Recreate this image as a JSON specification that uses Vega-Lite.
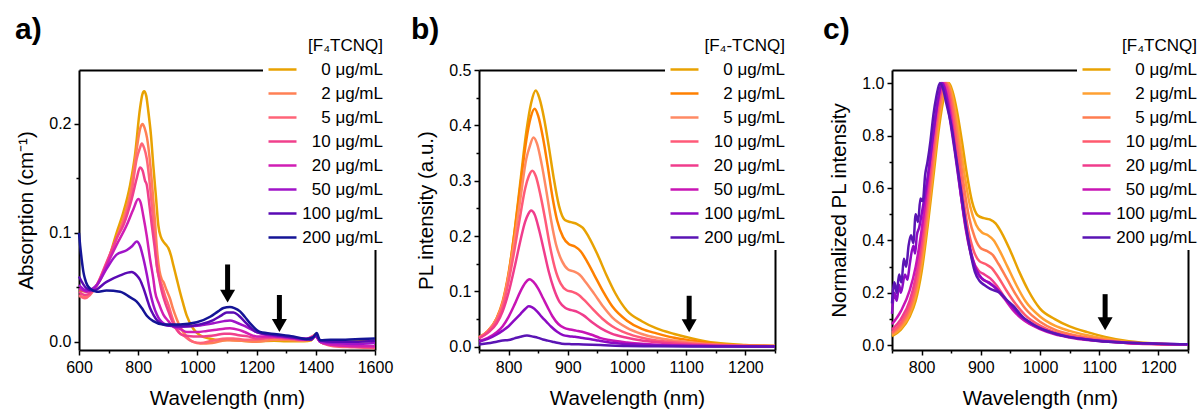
{
"$schema":"https://vega.github.io/schema/vega-lite/v6.json",
"padding":{"left":15,"top":15,"right":0,"bottom":0},
"background":"white",
"config":{
"view":{"stroke":null},
"font":"Liberation Sans",
"axis":{"domainColor":"black","domainWidth":2,"tickColor":"black","tickWidth":1.5,"labelColor":"black","titleColor":"black","labelFont":"Liberation Sans","titleFont":"Liberation Sans","labelFontSize":16,"titleFontSize":20.5,"titleFontWeight":"normal","grid":false,"labelFlush":false,"labelOverlap":false},
"legend":{"orient":"none","fillColor":"white","padding":4,"symbolType":"stroke","symbolSize":784,"symbolStrokeWidth":2.5,"labelAlign":"right","labelOffset":85,"labelFontSize":17,"labelFont":"Liberation Sans","labelColor":"black","titleFont":"Liberation Sans","titleFontSize":17,"titleFontWeight":"normal","titleColor":"black","titleAnchor":"end","titlePadding":6,"rowPadding":6,"clipHeight":17,"labelLimit":0},
"title":{"anchor":"start","frame":"group","fontSize":30,"fontWeight":"bold","font":"Liberation Sans","color":"black","offset":0}
},
"datasets":{
"A":[
{"k":0,"x":600,"y":0.047},{"k":0,"x":626,"y":0.046},{"k":0,"x":660,"y":0.052},{"k":0,"x":693,"y":0.07},{"k":0,"x":727,"y":0.1},{"k":0,"x":750,"y":0.119},{"k":0,"x":772,"y":0.143},{"k":0,"x":789,"y":0.171},{"k":0,"x":806,"y":0.214},{"k":0,"x":814,"y":0.227},{"k":0,"x":820,"y":0.23},{"k":0,"x":827,"y":0.226},{"k":0,"x":834,"y":0.212},{"k":0,"x":843,"y":0.19},{"k":0,"x":851,"y":0.162},{"k":0,"x":860,"y":0.133},{"k":0,"x":868,"y":0.107},{"k":0,"x":877,"y":0.096},{"k":0,"x":885,"y":0.092},{"k":0,"x":894,"y":0.089},{"k":0,"x":902,"y":0.086},{"k":0,"x":911,"y":0.079},{"k":0,"x":919,"y":0.07},{"k":0,"x":930,"y":0.058},{"k":0,"x":941,"y":0.046},{"k":0,"x":952,"y":0.035},{"k":0,"x":964,"y":0.024},{"k":0,"x":986,"y":0.012},{"k":0,"x":1009,"y":0.006},{"k":0,"x":1040,"y":0.003},{"k":0,"x":1080,"y":0.0015},{"k":0,"x":1110,"y":0.002},{"k":0,"x":1150,"y":0.001},{"k":0,"x":1200,"y":0.0005},{"k":0,"x":1260,"y":0.001},{"k":0,"x":1300,"y":0.0005},{"k":0,"x":1360,"y":0.0005},{"k":0,"x":1385,"y":0.0015},{"k":0,"x":1398,"y":0.007},{"k":0,"x":1405,"y":0.004},{"k":0,"x":1415,"y":0.0005},{"k":0,"x":1450,"y":0},{"k":0,"x":1500,"y":0},{"k":0,"x":1550,"y":0.0005},{"k":0,"x":1600,"y":0.001},
{"k":2,"x":600,"y":0.042},{"k":2,"x":620,"y":0.041},{"k":2,"x":660,"y":0.052},{"k":2,"x":693,"y":0.07},{"k":2,"x":727,"y":0.095},{"k":2,"x":750,"y":0.113},{"k":2,"x":778,"y":0.143},{"k":2,"x":795,"y":0.177},{"k":2,"x":808,"y":0.197},{"k":2,"x":815,"y":0.2},{"k":2,"x":822,"y":0.196},{"k":2,"x":830,"y":0.187},{"k":2,"x":840,"y":0.165},{"k":2,"x":847,"y":0.144},{"k":2,"x":856,"y":0.113},{"k":2,"x":864,"y":0.083},{"k":2,"x":872,"y":0.065},{"k":2,"x":880,"y":0.057},{"k":2,"x":885,"y":0.055},{"k":2,"x":895,"y":0.048},{"k":2,"x":907,"y":0.04},{"k":2,"x":918,"y":0.03},{"k":2,"x":930,"y":0.021},{"k":2,"x":941,"y":0.014},{"k":2,"x":952,"y":0.009},{"k":2,"x":970,"y":0.003},{"k":2,"x":986,"y":0},{"k":2,"x":1010,"y":-0.0015},{"k":2,"x":1050,"y":-0.001},{"k":2,"x":1100,"y":0.0015},{"k":2,"x":1150,"y":0.001},{"k":2,"x":1200,"y":0},{"k":2,"x":1260,"y":0.002},{"k":2,"x":1300,"y":0.002},{"k":2,"x":1360,"y":0.001},{"k":2,"x":1385,"y":0.002},{"k":2,"x":1400,"y":0.006},{"k":2,"x":1415,"y":0},{"k":2,"x":1459,"y":-0.003},{"k":2,"x":1530,"y":-0.004},{"k":2,"x":1600,"y":-0.0045},
{"k":5,"x":600,"y":0.043},{"k":5,"x":620,"y":0.04},{"k":5,"x":660,"y":0.052},{"k":5,"x":693,"y":0.073},{"k":5,"x":727,"y":0.095},{"k":5,"x":750,"y":0.11},{"k":5,"x":778,"y":0.138},{"k":5,"x":795,"y":0.168},{"k":5,"x":806,"y":0.178},{"k":5,"x":812,"y":0.182},{"k":5,"x":820,"y":0.178},{"k":5,"x":829,"y":0.168},{"k":5,"x":838,"y":0.148},{"k":5,"x":846,"y":0.125},{"k":5,"x":855,"y":0.098},{"k":5,"x":863,"y":0.07},{"k":5,"x":872,"y":0.058},{"k":5,"x":880,"y":0.052},{"k":5,"x":891,"y":0.042},{"k":5,"x":902,"y":0.034},{"k":5,"x":913,"y":0.024},{"k":5,"x":925,"y":0.015},{"k":5,"x":941,"y":0.008},{"k":5,"x":952,"y":0.006},{"k":5,"x":986,"y":0},{"k":5,"x":1010,"y":-0.001},{"k":5,"x":1050,"y":0.001},{"k":5,"x":1100,"y":0.003},{"k":5,"x":1121,"y":0.003},{"k":5,"x":1160,"y":0.002},{"k":5,"x":1200,"y":0.002},{"k":5,"x":1260,"y":0.004},{"k":5,"x":1300,"y":0.003},{"k":5,"x":1360,"y":0.002},{"k":5,"x":1385,"y":0.002},{"k":5,"x":1400,"y":0.006},{"k":5,"x":1415,"y":0},{"k":5,"x":1459,"y":-0.004},{"k":5,"x":1530,"y":-0.005},{"k":5,"x":1600,"y":-0.006},
{"k":10,"x":600,"y":0.046},{"k":10,"x":620,"y":0.043},{"k":10,"x":660,"y":0.052},{"k":10,"x":693,"y":0.072},{"k":10,"x":727,"y":0.095},{"k":10,"x":750,"y":0.107},{"k":10,"x":778,"y":0.131},{"k":10,"x":795,"y":0.15},{"k":10,"x":806,"y":0.16},{"k":10,"x":815,"y":0.157},{"k":10,"x":823,"y":0.148},{"k":10,"x":829,"y":0.144},{"k":10,"x":838,"y":0.125},{"k":10,"x":846,"y":0.107},{"k":10,"x":855,"y":0.088},{"k":10,"x":863,"y":0.07},{"k":10,"x":872,"y":0.056},{"k":10,"x":880,"y":0.046},{"k":10,"x":891,"y":0.036},{"k":10,"x":902,"y":0.028},{"k":10,"x":913,"y":0.02},{"k":10,"x":930,"y":0.011},{"k":10,"x":952,"y":0.006},{"k":10,"x":986,"y":0.005},{"k":10,"x":1020,"y":0.005},{"k":10,"x":1060,"y":0.006},{"k":10,"x":1090,"y":0.0075},{"k":10,"x":1110,"y":0.0075},{"k":10,"x":1140,"y":0.006},{"k":10,"x":1170,"y":0.005},{"k":10,"x":1200,"y":0.003},{"k":10,"x":1260,"y":0.004},{"k":10,"x":1300,"y":0.003},{"k":10,"x":1360,"y":0.002},{"k":10,"x":1400,"y":0.006},{"k":10,"x":1415,"y":0},{"k":10,"x":1459,"y":-0.003},{"k":10,"x":1530,"y":-0.004},{"k":10,"x":1600,"y":-0.005},
{"k":20,"x":600,"y":0.049},{"k":20,"x":626,"y":0.046},{"k":20,"x":660,"y":0.052},{"k":20,"x":693,"y":0.07},{"k":20,"x":727,"y":0.089},{"k":20,"x":761,"y":0.107},{"k":20,"x":784,"y":0.122},{"k":20,"x":800,"y":0.131},{"k":20,"x":808,"y":0.128},{"k":20,"x":817,"y":0.116},{"k":20,"x":829,"y":0.097},{"k":20,"x":840,"y":0.076},{"k":20,"x":851,"y":0.058},{"k":20,"x":857,"y":0.046},{"k":20,"x":870,"y":0.035},{"k":20,"x":885,"y":0.025},{"k":20,"x":902,"y":0.019},{"k":20,"x":918,"y":0.014},{"k":20,"x":941,"y":0.012},{"k":20,"x":964,"y":0.009},{"k":20,"x":1000,"y":0.009},{"k":20,"x":1032,"y":0.01},{"k":20,"x":1065,"y":0.011},{"k":20,"x":1090,"y":0.012},{"k":20,"x":1110,"y":0.0125},{"k":20,"x":1140,"y":0.011},{"k":20,"x":1160,"y":0.009},{"k":20,"x":1200,"y":0.005},{"k":20,"x":1260,"y":0.005},{"k":20,"x":1300,"y":0.004},{"k":20,"x":1360,"y":0.002},{"k":20,"x":1400,"y":0.005},{"k":20,"x":1415,"y":0},{"k":20,"x":1459,"y":-0.003},{"k":20,"x":1530,"y":-0.004},{"k":20,"x":1600,"y":-0.004},
{"k":50,"x":600,"y":0.052},{"k":50,"x":626,"y":0.047},{"k":50,"x":660,"y":0.052},{"k":50,"x":693,"y":0.067},{"k":50,"x":727,"y":0.08},{"k":50,"x":761,"y":0.084},{"k":50,"x":780,"y":0.088},{"k":50,"x":795,"y":0.092},{"k":50,"x":806,"y":0.088},{"k":50,"x":818,"y":0.076},{"k":50,"x":829,"y":0.062},{"k":50,"x":840,"y":0.046},{"k":50,"x":851,"y":0.034},{"k":50,"x":863,"y":0.025},{"k":50,"x":885,"y":0.017},{"k":50,"x":907,"y":0.015},{"k":50,"x":952,"y":0.014},{"k":50,"x":1009,"y":0.015},{"k":50,"x":1054,"y":0.017},{"k":50,"x":1090,"y":0.019},{"k":50,"x":1110,"y":0.0195},{"k":50,"x":1130,"y":0.018},{"k":50,"x":1155,"y":0.015},{"k":50,"x":1200,"y":0.009},{"k":50,"x":1268,"y":0.005},{"k":50,"x":1324,"y":0.004},{"k":50,"x":1380,"y":0.003},{"k":50,"x":1400,"y":0.005},{"k":50,"x":1415,"y":0},{"k":50,"x":1459,"y":-0.001},{"k":50,"x":1530,"y":-0.002},{"k":50,"x":1600,"y":-0.001},
{"k":100,"x":600,"y":0.06},{"k":100,"x":626,"y":0.049},{"k":100,"x":648,"y":0.047},{"k":100,"x":693,"y":0.055},{"k":100,"x":739,"y":0.061},{"k":100,"x":778,"y":0.064},{"k":100,"x":795,"y":0.061},{"k":100,"x":806,"y":0.057},{"k":100,"x":818,"y":0.049},{"k":100,"x":829,"y":0.04},{"k":100,"x":840,"y":0.031},{"k":100,"x":851,"y":0.025},{"k":100,"x":863,"y":0.02},{"k":100,"x":896,"y":0.015},{"k":100,"x":952,"y":0.014},{"k":100,"x":1009,"y":0.016},{"k":100,"x":1054,"y":0.02},{"k":100,"x":1080,"y":0.024},{"k":100,"x":1099,"y":0.027},{"k":100,"x":1122,"y":0.027},{"k":100,"x":1140,"y":0.024},{"k":100,"x":1155,"y":0.02},{"k":100,"x":1200,"y":0.009},{"k":100,"x":1268,"y":0.006},{"k":100,"x":1347,"y":0.003},{"k":100,"x":1385,"y":0.002},{"k":100,"x":1400,"y":0.006},{"k":100,"x":1415,"y":0.0015},{"k":100,"x":1459,"y":0},{"k":100,"x":1530,"y":0},{"k":100,"x":1600,"y":0.001},
{"k":200,"x":600,"y":0.1},{"k":200,"x":604,"y":0.088},{"k":200,"x":609,"y":0.076},{"k":200,"x":615,"y":0.064},{"k":200,"x":620,"y":0.058},{"k":200,"x":628,"y":0.052},{"k":200,"x":637,"y":0.049},{"k":200,"x":660,"y":0.046},{"k":200,"x":693,"y":0.047},{"k":200,"x":739,"y":0.046},{"k":200,"x":772,"y":0.041},{"k":200,"x":795,"y":0.037},{"k":200,"x":812,"y":0.031},{"k":200,"x":829,"y":0.024},{"k":200,"x":851,"y":0.019},{"k":200,"x":885,"y":0.016},{"k":200,"x":941,"y":0.016},{"k":200,"x":998,"y":0.018},{"k":200,"x":1043,"y":0.023},{"k":200,"x":1070,"y":0.028},{"k":200,"x":1088,"y":0.031},{"k":200,"x":1110,"y":0.032},{"k":200,"x":1125,"y":0.031},{"k":200,"x":1144,"y":0.028},{"k":200,"x":1160,"y":0.023},{"k":200,"x":1178,"y":0.017},{"k":200,"x":1212,"y":0.009},{"k":200,"x":1268,"y":0.007},{"k":200,"x":1324,"y":0.005},{"k":200,"x":1369,"y":0.0025},{"k":200,"x":1390,"y":0.004},{"k":200,"x":1403,"y":0.008},{"k":200,"x":1414,"y":0.0015},{"k":200,"x":1450,"y":0.002},{"k":200,"x":1500,"y":0.002},{"k":200,"x":1550,"y":0.0025},{"k":200,"x":1600,"y":0.003}
],
"B":[
{"k":0,"x":750,"y":0.016},{"k":0,"x":765,"y":0.028},{"k":0,"x":780,"y":0.051},{"k":0,"x":790,"y":0.079},{"k":0,"x":800,"y":0.13},{"k":0,"x":810,"y":0.208},{"k":0,"x":820,"y":0.299},{"k":0,"x":830,"y":0.389},{"k":0,"x":838,"y":0.44},{"k":0,"x":846,"y":0.463},{"k":0,"x":852,"y":0.449},{"k":0,"x":860,"y":0.412},{"k":0,"x":868,"y":0.361},{"k":0,"x":876,"y":0.306},{"k":0,"x":885,"y":0.255},{"k":0,"x":895,"y":0.229},{"k":0,"x":905,"y":0.225},{"k":0,"x":915,"y":0.222},{"k":0,"x":925,"y":0.215},{"k":0,"x":935,"y":0.199},{"k":0,"x":950,"y":0.167},{"k":0,"x":965,"y":0.13},{"k":0,"x":980,"y":0.097},{"k":0,"x":1000,"y":0.065},{"k":0,"x":1025,"y":0.046},{"k":0,"x":1050,"y":0.033},{"k":0,"x":1080,"y":0.023},{"k":0,"x":1110,"y":0.015},{"k":0,"x":1150,"y":0.007},{"k":0,"x":1200,"y":0.003},{"k":0,"x":1250,"y":0.0014},
{"k":2,"x":750,"y":0.017},{"k":2,"x":765,"y":0.028},{"k":2,"x":780,"y":0.052},{"k":2,"x":790,"y":0.082},{"k":2,"x":800,"y":0.133},{"k":2,"x":810,"y":0.206},{"k":2,"x":820,"y":0.292},{"k":2,"x":830,"y":0.374},{"k":2,"x":837,"y":0.413},{"k":2,"x":844,"y":0.43},{"k":2,"x":850,"y":0.417},{"k":2,"x":858,"y":0.378},{"k":2,"x":866,"y":0.327},{"k":2,"x":874,"y":0.271},{"k":2,"x":882,"y":0.228},{"k":2,"x":892,"y":0.198},{"k":2,"x":902,"y":0.185},{"k":2,"x":912,"y":0.181},{"k":2,"x":922,"y":0.172},{"k":2,"x":932,"y":0.155},{"k":2,"x":945,"y":0.129},{"k":2,"x":960,"y":0.099},{"k":2,"x":975,"y":0.073},{"k":2,"x":1000,"y":0.047},{"k":2,"x":1025,"y":0.032},{"k":2,"x":1050,"y":0.024},{"k":2,"x":1080,"y":0.016},{"k":2,"x":1110,"y":0.011},{"k":2,"x":1150,"y":0.005},{"k":2,"x":1200,"y":0.002},{"k":2,"x":1250,"y":0.0013},
{"k":5,"x":750,"y":0.017},{"k":5,"x":765,"y":0.028},{"k":5,"x":780,"y":0.051},{"k":5,"x":790,"y":0.079},{"k":5,"x":800,"y":0.129},{"k":5,"x":810,"y":0.193},{"k":5,"x":820,"y":0.268},{"k":5,"x":830,"y":0.34},{"k":5,"x":836,"y":0.363},{"k":5,"x":842,"y":0.378},{"k":5,"x":848,"y":0.367},{"k":5,"x":856,"y":0.329},{"k":5,"x":864,"y":0.28},{"k":5,"x":872,"y":0.227},{"k":5,"x":880,"y":0.185},{"k":5,"x":890,"y":0.155},{"k":5,"x":900,"y":0.14},{"k":5,"x":910,"y":0.136},{"k":5,"x":920,"y":0.13},{"k":5,"x":930,"y":0.117},{"k":5,"x":945,"y":0.095},{"k":5,"x":960,"y":0.072},{"k":5,"x":975,"y":0.053},{"k":5,"x":1000,"y":0.034},{"k":5,"x":1025,"y":0.023},{"k":5,"x":1050,"y":0.016},{"k":5,"x":1080,"y":0.011},{"k":5,"x":1110,"y":0.0076},{"k":5,"x":1150,"y":0.0038},{"k":5,"x":1200,"y":0.0019},{"k":5,"x":1250,"y":0.0011},
{"k":10,"x":750,"y":0.016},{"k":10,"x":765,"y":0.027},{"k":10,"x":780,"y":0.048},{"k":10,"x":790,"y":0.073},{"k":10,"x":800,"y":0.118},{"k":10,"x":810,"y":0.175},{"k":10,"x":820,"y":0.239},{"k":10,"x":828,"y":0.286},{"k":10,"x":834,"y":0.308},{"k":10,"x":840,"y":0.318},{"k":10,"x":846,"y":0.308},{"k":10,"x":854,"y":0.273},{"k":10,"x":862,"y":0.229},{"k":10,"x":870,"y":0.181},{"k":10,"x":878,"y":0.143},{"k":10,"x":888,"y":0.114},{"k":10,"x":898,"y":0.102},{"k":10,"x":908,"y":0.099},{"k":10,"x":918,"y":0.094},{"k":10,"x":928,"y":0.084},{"k":10,"x":943,"y":0.067},{"k":10,"x":958,"y":0.051},{"k":10,"x":975,"y":0.037},{"k":10,"x":1000,"y":0.024},{"k":10,"x":1025,"y":0.016},{"k":10,"x":1050,"y":0.011},{"k":10,"x":1080,"y":0.008},{"k":10,"x":1110,"y":0.0054},{"k":10,"x":1150,"y":0.0029},{"k":10,"x":1200,"y":0.0016},{"k":10,"x":1250,"y":0.001},
{"k":20,"x":750,"y":0.015},{"k":20,"x":765,"y":0.025},{"k":20,"x":780,"y":0.042},{"k":20,"x":790,"y":0.064},{"k":20,"x":800,"y":0.098},{"k":20,"x":810,"y":0.143},{"k":20,"x":820,"y":0.192},{"k":20,"x":828,"y":0.226},{"k":20,"x":833,"y":0.239},{"k":20,"x":838,"y":0.246},{"k":20,"x":844,"y":0.239},{"k":20,"x":852,"y":0.209},{"k":20,"x":860,"y":0.172},{"k":20,"x":868,"y":0.135},{"k":20,"x":876,"y":0.106},{"k":20,"x":886,"y":0.081},{"k":20,"x":896,"y":0.07},{"k":20,"x":906,"y":0.066},{"k":20,"x":916,"y":0.063},{"k":20,"x":926,"y":0.057},{"k":20,"x":941,"y":0.044},{"k":20,"x":956,"y":0.033},{"k":20,"x":973,"y":0.024},{"k":20,"x":1000,"y":0.016},{"k":20,"x":1025,"y":0.011},{"k":20,"x":1050,"y":0.0079},{"k":20,"x":1080,"y":0.0054},{"k":20,"x":1110,"y":0.0037},{"k":20,"x":1150,"y":0.002},{"k":20,"x":1200,"y":0.001},{"k":20,"x":1250,"y":0.0007},
{"k":50,"x":750,"y":0.01},{"k":50,"x":765,"y":0.016},{"k":50,"x":780,"y":0.026},{"k":50,"x":790,"y":0.037},{"k":50,"x":800,"y":0.054},{"k":50,"x":810,"y":0.076},{"k":50,"x":820,"y":0.1},{"k":50,"x":828,"y":0.115},{"k":50,"x":832,"y":0.12},{"k":50,"x":836,"y":0.122},{"k":50,"x":842,"y":0.117},{"k":50,"x":850,"y":0.105},{"k":50,"x":858,"y":0.088},{"k":50,"x":866,"y":0.071},{"k":50,"x":874,"y":0.055},{"k":50,"x":884,"y":0.041},{"k":50,"x":894,"y":0.034},{"k":50,"x":904,"y":0.031},{"k":50,"x":914,"y":0.029},{"k":50,"x":924,"y":0.027},{"k":50,"x":939,"y":0.022},{"k":50,"x":954,"y":0.016},{"k":50,"x":970,"y":0.012},{"k":50,"x":1000,"y":0.0076},{"k":50,"x":1025,"y":0.0051},{"k":50,"x":1050,"y":0.0037},{"k":50,"x":1080,"y":0.0024},{"k":50,"x":1110,"y":0.0017},{"k":50,"x":1150,"y":0.001},{"k":50,"x":1200,"y":0.0006},{"k":50,"x":1250,"y":0.0004},
{"k":100,"x":750,"y":0.009},{"k":100,"x":765,"y":0.014},{"k":100,"x":780,"y":0.022},{"k":100,"x":790,"y":0.029},{"k":100,"x":800,"y":0.037},{"k":100,"x":810,"y":0.048},{"k":100,"x":820,"y":0.059},{"k":100,"x":828,"y":0.068},{"k":100,"x":834,"y":0.073},{"k":100,"x":840,"y":0.071},{"k":100,"x":848,"y":0.064},{"k":100,"x":856,"y":0.054},{"k":100,"x":864,"y":0.045},{"k":100,"x":872,"y":0.036},{"k":100,"x":882,"y":0.027},{"k":100,"x":892,"y":0.021},{"k":100,"x":902,"y":0.019},{"k":100,"x":912,"y":0.018},{"k":100,"x":922,"y":0.016},{"k":100,"x":937,"y":0.014},{"k":100,"x":952,"y":0.011},{"k":100,"x":968,"y":0.008},{"k":100,"x":1000,"y":0.0047},{"k":100,"x":1050,"y":0.0024},{"k":100,"x":1110,"y":0.0011},{"k":100,"x":1200,"y":0.0005},{"k":100,"x":1250,"y":0.0003},
{"k":200,"x":750,"y":0.004},{"k":200,"x":765,"y":0.006},{"k":200,"x":780,"y":0.009},{"k":200,"x":790,"y":0.011},{"k":200,"x":800,"y":0.012},{"k":200,"x":810,"y":0.015},{"k":200,"x":820,"y":0.018},{"k":200,"x":831,"y":0.02},{"k":200,"x":842,"y":0.018},{"k":200,"x":850,"y":0.016},{"k":200,"x":858,"y":0.013},{"k":200,"x":866,"y":0.011},{"k":200,"x":874,"y":0.009},{"k":200,"x":882,"y":0.007},{"k":200,"x":890,"y":0.0055},{"k":200,"x":906,"y":0.0045},{"k":200,"x":926,"y":0.004},{"k":200,"x":955,"y":0.003},{"k":200,"x":1000,"y":0.0013},{"k":200,"x":1050,"y":0.0008},{"k":200,"x":1110,"y":0.0004},{"k":200,"x":1250,"y":0.0002}
],
"C":[
{"k":0,"x":750,"y":0.035},{"k":0,"x":765,"y":0.06},{"k":0,"x":780,"y":0.11},{"k":0,"x":790,"y":0.17},{"k":0,"x":800,"y":0.28},{"k":0,"x":810,"y":0.45},{"k":0,"x":820,"y":0.645},{"k":0,"x":830,"y":0.84},{"k":0,"x":838,"y":0.95},{"k":0,"x":846,"y":1.0},{"k":0,"x":852,"y":0.97},{"k":0,"x":860,"y":0.89},{"k":0,"x":868,"y":0.78},{"k":0,"x":876,"y":0.66},{"k":0,"x":885,"y":0.55},{"k":0,"x":895,"y":0.495},{"k":0,"x":905,"y":0.485},{"k":0,"x":915,"y":0.48},{"k":0,"x":925,"y":0.465},{"k":0,"x":935,"y":0.43},{"k":0,"x":950,"y":0.36},{"k":0,"x":965,"y":0.28},{"k":0,"x":980,"y":0.21},{"k":0,"x":1000,"y":0.14},{"k":0,"x":1025,"y":0.1},{"k":0,"x":1050,"y":0.072},{"k":0,"x":1080,"y":0.05},{"k":0,"x":1110,"y":0.032},{"k":0,"x":1150,"y":0.015},{"k":0,"x":1200,"y":0.006},{"k":0,"x":1250,"y":0.003},
{"k":2,"x":750,"y":0.04},{"k":2,"x":765,"y":0.065},{"k":2,"x":780,"y":0.12},{"k":2,"x":790,"y":0.19},{"k":2,"x":800,"y":0.31},{"k":2,"x":810,"y":0.48},{"k":2,"x":820,"y":0.68},{"k":2,"x":830,"y":0.87},{"k":2,"x":837,"y":0.96},{"k":2,"x":844,"y":1.0},{"k":2,"x":850,"y":0.97},{"k":2,"x":858,"y":0.88},{"k":2,"x":866,"y":0.76},{"k":2,"x":874,"y":0.63},{"k":2,"x":882,"y":0.53},{"k":2,"x":892,"y":0.46},{"k":2,"x":902,"y":0.43},{"k":2,"x":912,"y":0.42},{"k":2,"x":922,"y":0.4},{"k":2,"x":932,"y":0.36},{"k":2,"x":945,"y":0.3},{"k":2,"x":960,"y":0.23},{"k":2,"x":975,"y":0.17},{"k":2,"x":1000,"y":0.11},{"k":2,"x":1025,"y":0.075},{"k":2,"x":1050,"y":0.055},{"k":2,"x":1080,"y":0.038},{"k":2,"x":1110,"y":0.025},{"k":2,"x":1150,"y":0.012},{"k":2,"x":1200,"y":0.005},{"k":2,"x":1250,"y":0.003},
{"k":5,"x":750,"y":0.045},{"k":5,"x":765,"y":0.075},{"k":5,"x":780,"y":0.135},{"k":5,"x":790,"y":0.21},{"k":5,"x":800,"y":0.34},{"k":5,"x":810,"y":0.51},{"k":5,"x":820,"y":0.71},{"k":5,"x":830,"y":0.9},{"k":5,"x":836,"y":0.96},{"k":5,"x":842,"y":1.0},{"k":5,"x":848,"y":0.97},{"k":5,"x":856,"y":0.87},{"k":5,"x":864,"y":0.74},{"k":5,"x":872,"y":0.6},{"k":5,"x":880,"y":0.49},{"k":5,"x":890,"y":0.41},{"k":5,"x":900,"y":0.37},{"k":5,"x":910,"y":0.36},{"k":5,"x":920,"y":0.345},{"k":5,"x":930,"y":0.31},{"k":5,"x":945,"y":0.25},{"k":5,"x":960,"y":0.19},{"k":5,"x":975,"y":0.14},{"k":5,"x":1000,"y":0.09},{"k":5,"x":1025,"y":0.06},{"k":5,"x":1050,"y":0.043},{"k":5,"x":1080,"y":0.03},{"k":5,"x":1110,"y":0.02},{"k":5,"x":1150,"y":0.01},{"k":5,"x":1200,"y":0.005},{"k":5,"x":1250,"y":0.003},
{"k":10,"x":750,"y":0.05},{"k":10,"x":765,"y":0.085},{"k":10,"x":780,"y":0.15},{"k":10,"x":790,"y":0.23},{"k":10,"x":800,"y":0.37},{"k":10,"x":810,"y":0.55},{"k":10,"x":820,"y":0.75},{"k":10,"x":828,"y":0.9},{"k":10,"x":834,"y":0.97},{"k":10,"x":840,"y":1.0},{"k":10,"x":846,"y":0.97},{"k":10,"x":854,"y":0.86},{"k":10,"x":862,"y":0.72},{"k":10,"x":870,"y":0.57},{"k":10,"x":878,"y":0.45},{"k":10,"x":888,"y":0.36},{"k":10,"x":898,"y":0.32},{"k":10,"x":908,"y":0.31},{"k":10,"x":918,"y":0.295},{"k":10,"x":928,"y":0.265},{"k":10,"x":943,"y":0.21},{"k":10,"x":958,"y":0.16},{"k":10,"x":975,"y":0.115},{"k":10,"x":1000,"y":0.075},{"k":10,"x":1025,"y":0.05},{"k":10,"x":1050,"y":0.036},{"k":10,"x":1080,"y":0.025},{"k":10,"x":1110,"y":0.017},{"k":10,"x":1150,"y":0.009},{"k":10,"x":1200,"y":0.005},{"k":10,"x":1250,"y":0.003},
{"k":20,"x":750,"y":0.06},{"k":20,"x":765,"y":0.1},{"k":20,"x":780,"y":0.17},{"k":20,"x":790,"y":0.26},{"k":20,"x":800,"y":0.4},{"k":20,"x":810,"y":0.58},{"k":20,"x":820,"y":0.78},{"k":20,"x":828,"y":0.92},{"k":20,"x":833,"y":0.97},{"k":20,"x":838,"y":1.0},{"k":20,"x":844,"y":0.97},{"k":20,"x":852,"y":0.85},{"k":20,"x":860,"y":0.7},{"k":20,"x":868,"y":0.55},{"k":20,"x":876,"y":0.43},{"k":20,"x":886,"y":0.33},{"k":20,"x":896,"y":0.285},{"k":20,"x":906,"y":0.27},{"k":20,"x":916,"y":0.255},{"k":20,"x":926,"y":0.23},{"k":20,"x":941,"y":0.18},{"k":20,"x":956,"y":0.135},{"k":20,"x":973,"y":0.097},{"k":20,"x":1000,"y":0.065},{"k":20,"x":1025,"y":0.045},{"k":20,"x":1050,"y":0.032},{"k":20,"x":1080,"y":0.022},{"k":20,"x":1110,"y":0.015},{"k":20,"x":1150,"y":0.008},{"k":20,"x":1200,"y":0.004},{"k":20,"x":1250,"y":0.003},
{"k":50,"x":750,"y":0.08},{"k":50,"x":765,"y":0.13},{"k":50,"x":780,"y":0.21},{"k":50,"x":790,"y":0.3},{"k":50,"x":800,"y":0.44},{"k":50,"x":810,"y":0.62},{"k":50,"x":820,"y":0.82},{"k":50,"x":828,"y":0.94},{"k":50,"x":832,"y":0.98},{"k":50,"x":836,"y":1.0},{"k":50,"x":842,"y":0.96},{"k":50,"x":850,"y":0.86},{"k":50,"x":858,"y":0.72},{"k":50,"x":866,"y":0.58},{"k":50,"x":874,"y":0.45},{"k":50,"x":884,"y":0.34},{"k":50,"x":894,"y":0.275},{"k":50,"x":904,"y":0.25},{"k":50,"x":914,"y":0.24},{"k":50,"x":924,"y":0.22},{"k":50,"x":939,"y":0.18},{"k":50,"x":954,"y":0.135},{"k":50,"x":970,"y":0.1},{"k":50,"x":1000,"y":0.062},{"k":50,"x":1025,"y":0.042},{"k":50,"x":1050,"y":0.03},{"k":50,"x":1080,"y":0.02},{"k":50,"x":1110,"y":0.014},{"k":50,"x":1150,"y":0.008},{"k":50,"x":1200,"y":0.005},{"k":50,"x":1250,"y":0.003},
{"k":100,"x":750,"y":0.12},{"k":100,"x":754,"y":0.2},{"k":100,"x":758,"y":0.17},{"k":100,"x":762,"y":0.23},{"k":100,"x":765,"y":0.2},{"k":100,"x":772,"y":0.27},{"k":100,"x":776,"y":0.25},{"k":100,"x":780,"y":0.31},{"k":100,"x":786,"y":0.38},{"k":100,"x":789,"y":0.35},{"k":100,"x":792,"y":0.42},{"k":100,"x":796,"y":0.45},{"k":100,"x":800,"y":0.5},{"k":100,"x":806,"y":0.58},{"k":100,"x":812,"y":0.67},{"k":100,"x":820,"y":0.81},{"k":100,"x":828,"y":0.94},{"k":100,"x":834,"y":1.0},{"k":100,"x":840,"y":0.97},{"k":100,"x":848,"y":0.86},{"k":100,"x":856,"y":0.74},{"k":100,"x":864,"y":0.61},{"k":100,"x":872,"y":0.49},{"k":100,"x":882,"y":0.37},{"k":100,"x":892,"y":0.29},{"k":100,"x":902,"y":0.255},{"k":100,"x":912,"y":0.24},{"k":100,"x":922,"y":0.225},{"k":100,"x":937,"y":0.19},{"k":100,"x":952,"y":0.15},{"k":100,"x":968,"y":0.11},{"k":100,"x":988,"y":0.08},{"k":100,"x":1000,"y":0.065},{"k":100,"x":1025,"y":0.045},{"k":100,"x":1050,"y":0.032},{"k":100,"x":1080,"y":0.022},{"k":100,"x":1110,"y":0.015},{"k":100,"x":1150,"y":0.01},{"k":100,"x":1200,"y":0.006},{"k":100,"x":1250,"y":0.004},
{"k":200,"x":750,"y":0.16},{"k":200,"x":754,"y":0.24},{"k":200,"x":758,"y":0.2},{"k":200,"x":762,"y":0.27},{"k":200,"x":766,"y":0.24},{"k":200,"x":770,"y":0.33},{"k":200,"x":774,"y":0.3},{"k":200,"x":778,"y":0.38},{"k":200,"x":782,"y":0.42},{"k":200,"x":786,"y":0.39},{"k":200,"x":790,"y":0.5},{"k":200,"x":794,"y":0.47},{"k":200,"x":798,"y":0.56},{"k":200,"x":802,"y":0.55},{"k":200,"x":806,"y":0.65},{"k":200,"x":810,"y":0.7},{"k":200,"x":815,"y":0.78},{"k":200,"x":820,"y":0.88},{"k":200,"x":825,"y":0.95},{"k":200,"x":831,"y":1.0},{"k":200,"x":836,"y":0.98},{"k":200,"x":842,"y":0.92},{"k":200,"x":850,"y":0.84},{"k":200,"x":858,"y":0.72},{"k":200,"x":866,"y":0.6},{"k":200,"x":874,"y":0.47},{"k":200,"x":882,"y":0.36},{"k":200,"x":890,"y":0.28},{"k":200,"x":898,"y":0.245},{"k":200,"x":906,"y":0.23},{"k":200,"x":916,"y":0.215},{"k":200,"x":932,"y":0.2},{"k":200,"x":945,"y":0.17},{"k":200,"x":955,"y":0.15},{"k":200,"x":970,"y":0.11},{"k":200,"x":988,"y":0.08},{"k":200,"x":1000,"y":0.065},{"k":200,"x":1025,"y":0.045},{"k":200,"x":1045,"y":0.033},{"k":200,"x":1080,"y":0.022},{"k":200,"x":1110,"y":0.014},{"k":200,"x":1150,"y":0.01},{"k":200,"x":1200,"y":0.006},{"k":200,"x":1250,"y":0.004}
],
"AA":[{"x":1102,"y1":0.071,"yb":0.045,"yt":0.036},{"x":1277,"y1":0.043,"yb":0.018,"yt":0.009}],
"BA":[{"x":1105,"y1":0.092,"yb":0.044,"yt":0.026}],
"CA":[{"x":1110,"y1":0.195,"yb":0.095,"yt":0.057}]
},
"resolve":{"scale":{"x":"independent","y":"independent","color":"independent"},"legend":{"color":"independent"}},
"spacing":34,
"hconcat":[
{"resolve":{"scale":{"x":"independent","y":"independent","color":"independent"},"legend":{"color":"independent"}},
"spacing":18,
"hconcat":[
{"width":296,"height":280,
"title":{"text":"a)","dx":-64,"dy":15},
"resolve":{"axis":{"x":"independent","y":"independent"}},
"layer":[
{"data":{"name":"A"},"mark":{"type":"line","strokeWidth":2.5,"interpolate":"monotone"},
"encoding":{
"x":{"field":"x","type":"quantitative","scale":{"domain":[600,1600],"nice":false,"zero":false},"axis":{"title":"Wavelength (nm)","values":[600,700,800,900,1000,1100,1200,1300,1400,1500,1600],"format":"d","labelExpr":"datum.value % 200 == 0 ? datum.label : ''","tickSize":{"condition":{"test":"datum.value % 200 == 0","value":5},"value":3},"labelPadding":4,"titlePadding":13}},
"y":{"field":"y","type":"quantitative","scale":{"domain":[-0.0075,0.2495],"nice":false,"zero":false},"axis":{"title":"Absorption (cm⁻¹)","values":[0,0.05,0.1,0.15,0.2],"format":".1f","labelExpr":"round(datum.value*20) % 2 == 0 ? datum.label : ''","tickSize":{"condition":{"test":"round(datum.value*20) % 2 == 0","value":5},"value":3},"labelPadding":3,"titlePadding":12}},
"color":{"field":"k","type":"nominal","scale":{"domain":[0,2,5,10,20,50,100,200],"range":["#E8A202","#FF8055","#FF6478","#F0408C","#D01EB4","#A014C8","#5A0AB4","#141496"]},"legend":{"title":"[F₄TCNQ]","legendX":184,"legendY":-36,"labelExpr":"datum.label + ' μg/mL'"}}
}},
{"data":{"name":"AA"},"mark":{"type":"rule","strokeWidth":5,"color":"black","strokeCap":"butt"},
"encoding":{
"x":{"field":"x","type":"quantitative","scale":{"domain":[600,1600],"nice":false,"zero":false},"axis":{"orient":"top","labels":false,"ticks":false,"title":null}},
"y":{"field":"y1","type":"quantitative","scale":{"domain":[-0.0075,0.2495],"nice":false,"zero":false},"axis":{"orient":"right","labels":false,"ticks":false,"title":null}},
"y2":{"field":"yb"}
}},
{"data":{"name":"AA"},"mark":{"type":"point","shape":"M-1,-1.73L1,-1.73L0,0Z","size":225,"filled":true,"color":"black","opacity":1},
"encoding":{
"x":{"field":"x","type":"quantitative","scale":{"domain":[600,1600],"nice":false,"zero":false},"axis":null},
"y":{"field":"yt","type":"quantitative","scale":{"domain":[-0.0075,0.2495],"nice":false,"zero":false},"axis":null}
}}
]},
{"width":296,"height":280,
"title":{"text":"b)","dx":-68,"dy":15},
"resolve":{"axis":{"x":"independent","y":"independent"}},
"layer":[
{"data":{"name":"B"},"mark":{"type":"line","strokeWidth":2.5,"interpolate":"monotone"},
"encoding":{
"x":{"field":"x","type":"quantitative","scale":{"domain":[750,1250],"nice":false,"zero":false},"axis":{"title":"Wavelength (nm)","values":[750,800,850,900,950,1000,1050,1100,1150,1200,1250],"format":"d","labelExpr":"datum.value % 100 == 0 ? datum.label : ''","tickSize":{"condition":{"test":"datum.value % 100 == 0","value":5},"value":3},"labelPadding":4,"titlePadding":13}},
"y":{"field":"y","type":"quantitative","scale":{"domain":[-0.006,0.5],"nice":false,"zero":false},"axis":{"title":"PL intensity (a.u.)","values":[0,0.05,0.1,0.15,0.2,0.25,0.3,0.35,0.4,0.45,0.5],"format":".1f","labelExpr":"round(datum.value*20) % 2 == 0 ? datum.label : ''","tickSize":{"condition":{"test":"round(datum.value*20) % 2 == 0","value":5},"value":3},"labelPadding":3,"titlePadding":12}},
"color":{"field":"k","type":"nominal","scale":{"domain":[0,2,5,10,20,50,100,200],"range":["#E8A202","#FF8000","#FF8A64","#FF5A78","#F03C8C","#C814B4","#8C0AC3","#5A14B4"]},"legend":{"title":"[F₄-TCNQ]","legendX":186,"legendY":-36,"labelExpr":"datum.label + ' μg/mL'"}}
}},
{"data":{"name":"BA"},"mark":{"type":"rule","strokeWidth":5,"color":"black","strokeCap":"butt"},
"encoding":{
"x":{"field":"x","type":"quantitative","scale":{"domain":[750,1250],"nice":false,"zero":false},"axis":{"orient":"top","labels":false,"ticks":false,"title":null}},
"y":{"field":"y1","type":"quantitative","scale":{"domain":[-0.006,0.5],"nice":false,"zero":false},"axis":{"orient":"right","labels":false,"ticks":false,"title":null}},
"y2":{"field":"yb"}
}},
{"data":{"name":"BA"},"mark":{"type":"point","shape":"M-1,-1.73L1,-1.73L0,0Z","size":225,"filled":true,"color":"black","opacity":1},
"encoding":{
"x":{"field":"x","type":"quantitative","scale":{"domain":[750,1250],"nice":false,"zero":false},"axis":null},
"y":{"field":"yt","type":"quantitative","scale":{"domain":[-0.006,0.5],"nice":false,"zero":false},"axis":null}
}}
]}
]},
{"width":296,"height":280,
"title":{"text":"c)","dx":-69,"dy":15},
"resolve":{"axis":{"x":"independent","y":"independent"}},
"layer":[
{"data":{"name":"C"},"mark":{"type":"line","strokeWidth":2.5,"interpolate":"monotone"},
"encoding":{
"x":{"field":"x","type":"quantitative","scale":{"domain":[750,1250],"nice":false,"zero":false},"axis":{"title":"Wavelength (nm)","values":[750,800,850,900,950,1000,1050,1100,1150,1200,1250],"format":"d","labelExpr":"datum.value % 100 == 0 ? datum.label : ''","tickSize":{"condition":{"test":"datum.value % 100 == 0","value":5},"value":3},"labelPadding":4,"titlePadding":13}},
"y":{"field":"y","type":"quantitative","scale":{"domain":[-0.018,1.05],"nice":false,"zero":false},"axis":{"title":"Normalized PL intensity","values":[0,0.1,0.2,0.3,0.4,0.5,0.6,0.7,0.8,0.9,1.0],"format":".1f","labelExpr":"round(datum.value*10) % 2 == 0 ? datum.label : ''","tickSize":{"condition":{"test":"round(datum.value*10) % 2 == 0","value":5},"value":3},"labelPadding":3,"titlePadding":12}},
"color":{"field":"k","type":"nominal","scale":{"domain":[0,2,5,10,20,50,100,200],"range":["#E8A202","#FFA032","#FF7D50","#FF5A6E","#F03C8C","#C814B4","#8C0AC3","#5A14B4"]},"legend":{"title":"[F₄TCNQ]","legendX":185,"legendY":-36,"labelExpr":"datum.label + ' μg/mL'"}}
}},
{"data":{"name":"CA"},"mark":{"type":"rule","strokeWidth":5,"color":"black","strokeCap":"butt"},
"encoding":{
"x":{"field":"x","type":"quantitative","scale":{"domain":[750,1250],"nice":false,"zero":false},"axis":{"orient":"top","labels":false,"ticks":false,"title":null}},
"y":{"field":"y1","type":"quantitative","scale":{"domain":[-0.018,1.05],"nice":false,"zero":false},"axis":{"orient":"right","labels":false,"ticks":false,"title":null}},
"y2":{"field":"yb"}
}},
{"data":{"name":"CA"},"mark":{"type":"point","shape":"M-1,-1.73L1,-1.73L0,0Z","size":225,"filled":true,"color":"black","opacity":1},
"encoding":{
"x":{"field":"x","type":"quantitative","scale":{"domain":[750,1250],"nice":false,"zero":false},"axis":null},
"y":{"field":"yt","type":"quantitative","scale":{"domain":[-0.018,1.05],"nice":false,"zero":false},"axis":null}
}}
]}
]
}
